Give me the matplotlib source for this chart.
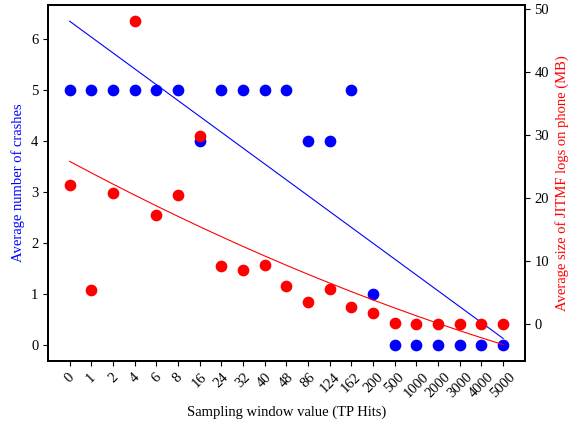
import numpy as np
import matplotlib
matplotlib.use("Agg")
import matplotlib.pyplot as plt

plt.rcParams["font.family"] = ["Liberation Serif", "DejaVu Serif"]
plt.rcParams["font.size"] = 10.5

# ---------------- DATA ---------------- #
windows = ["0", "1", "2", "4", "6", "8", "16", "24", "32", "40", "48",
           "86", "124", "162", "200", "500", "1000", "2000", "3000", "4000", "5000"]
crashes = [5, 5, 5, 5, 5, 5, 4, 5, 5, 5, 5, 4, 4, 5, 1, 0, 0, 0, 0, 0, 0]
log_size_mb = [22.1, 5.4, 20.8, 48.1, 17.3, 20.4, 29.8, 9.2, 8.5, 9.4, 6.0,
               3.4, 5.5, 2.6, 1.7, 0.2, 0.0, 0.0, 0.0, 0.0, 0.0]


def main():
    x = np.arange(len(windows))

    fig, ax1 = plt.subplots(figsize=(5.78, 4.21), dpi=100)
    ax2 = ax1.twinx()

    # scatter points
    ax1.scatter(x, crashes, color="blue", s=55, zorder=3)
    ax2.scatter(x, log_size_mb, color="red", s=55, zorder=3)

    # trend lines
    blue_fit = np.polyval(np.polyfit(x, crashes, 1), x)
    red_fit = np.polyval(np.polyfit(x, log_size_mb, 2), x)
    ax1.plot(x, blue_fit, color="blue", linewidth=0.8)
    ax2.plot(x, red_fit, color="red", linewidth=0.8)

    ax1.set_xticks(x)
    ax1.set_xticklabels(windows, rotation=45)
    ax1.set_xlabel("Sampling window value (TP Hits)")
    ax1.set_ylabel("Average number of crashes", color="blue")
    ax2.set_ylabel("Average size of JITMF logs on phone (MB)", color="red")

    for ax in (ax1, ax2):
        for sp in ax.spines.values():
            sp.set_linewidth(1.3)

    fig.subplots_adjust(left=0.083, right=0.908, top=0.988, bottom=0.143)
    fig.savefig("out.png", dpi=100)


if __name__ == "__main__":
    main()
